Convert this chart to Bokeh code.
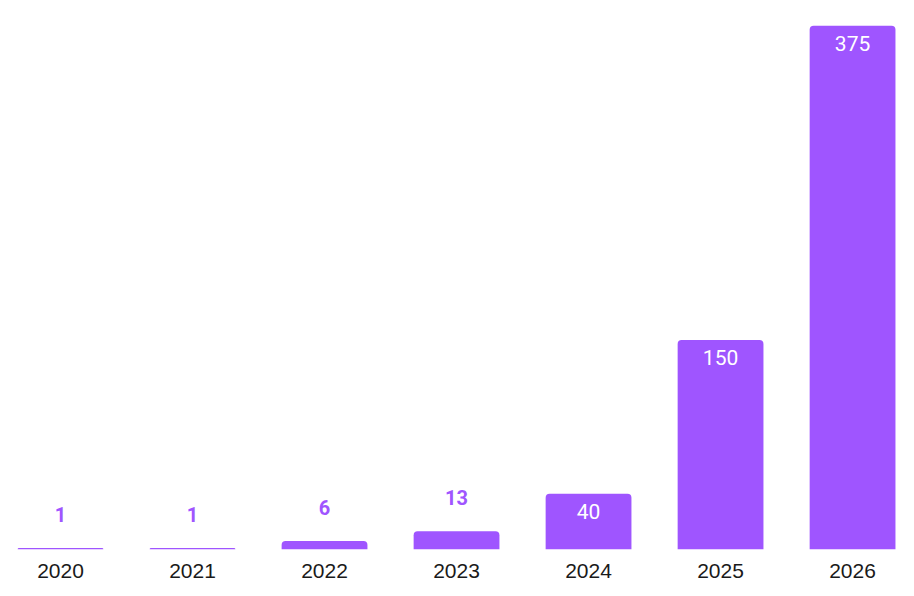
from bokeh.plotting import figure
from bokeh.models import ColumnDataSource, Range1d, FixedTicker
from bokeh.core.properties import value
from bokeh.embed import file_html
from bokeh.resources import INLINE

years = ["2020", "2021", "2022", "2023", "2024", "2025", "2026"]
counts = [1, 1, 6, 13, 40, 150, 375]

BAR = "#9F55FF"
xs = list(range(len(years)))

src = ColumnDataSource(dict(x=xs, top=counts, label=[str(c) for c in counts]))
inside = [i for i, c in enumerate(counts) if c >= 30]
outside = [i for i, c in enumerate(counts) if c < 30]
src_in = ColumnDataSource(dict(x=[xs[i] for i in inside], y=[counts[i] for i in inside],
                               label=[str(counts[i]) for i in inside]))
src_out = ColumnDataSource(dict(x=[xs[i] for i in outside], y=[counts[i] for i in outside],
                                label=[str(counts[i]) for i in outside]))

p = figure(width=898, height=588, output_backend="svg", toolbar_location=None,
           x_range=Range1d(-0.394, 6.348), y_range=Range1d(0, 387.3),
           min_border_left=8, min_border_right=0, min_border_top=8, min_border_bottom=39)

p.vbar(x="x", top="top", bottom=0, width=0.65, source=src, fill_color=BAR,
       line_color=None, border_radius=(4, 4, 0, 0))

p.text(x="x", y="y", text="label", source=src_in, text_align="center", text_baseline="middle",
       y_offset=18, text_color="white", text_font=value("Roboto"), text_font_size="21px")
p.text(x="x", y="y", text="label", source=src_out, text_align="center", text_baseline="middle",
       y_offset=-34, text_color=BAR, text_font=value("Roboto"), text_font_size="20px",
       text_font_style="bold")

p.xaxis.ticker = FixedTicker(ticks=xs)
p.xaxis.major_label_overrides = {i: y for i, y in zip(xs, years)}
p.xaxis.axis_line_color = None
p.xaxis.major_tick_line_color = None
p.xaxis.minor_tick_line_color = None
p.xaxis.major_tick_out = 0
p.xaxis.major_label_standoff = 14
p.xaxis.major_label_text_font = "Liberation Sans"
p.xaxis.major_label_text_font_size = "21px"
p.xaxis.major_label_text_color = "#1a1a1a"
p.yaxis.visible = False
p.xgrid.grid_line_color = None
p.ygrid.grid_line_color = None
p.outline_line_color = None

open("out.html", "w").write(file_html(p, INLINE))
